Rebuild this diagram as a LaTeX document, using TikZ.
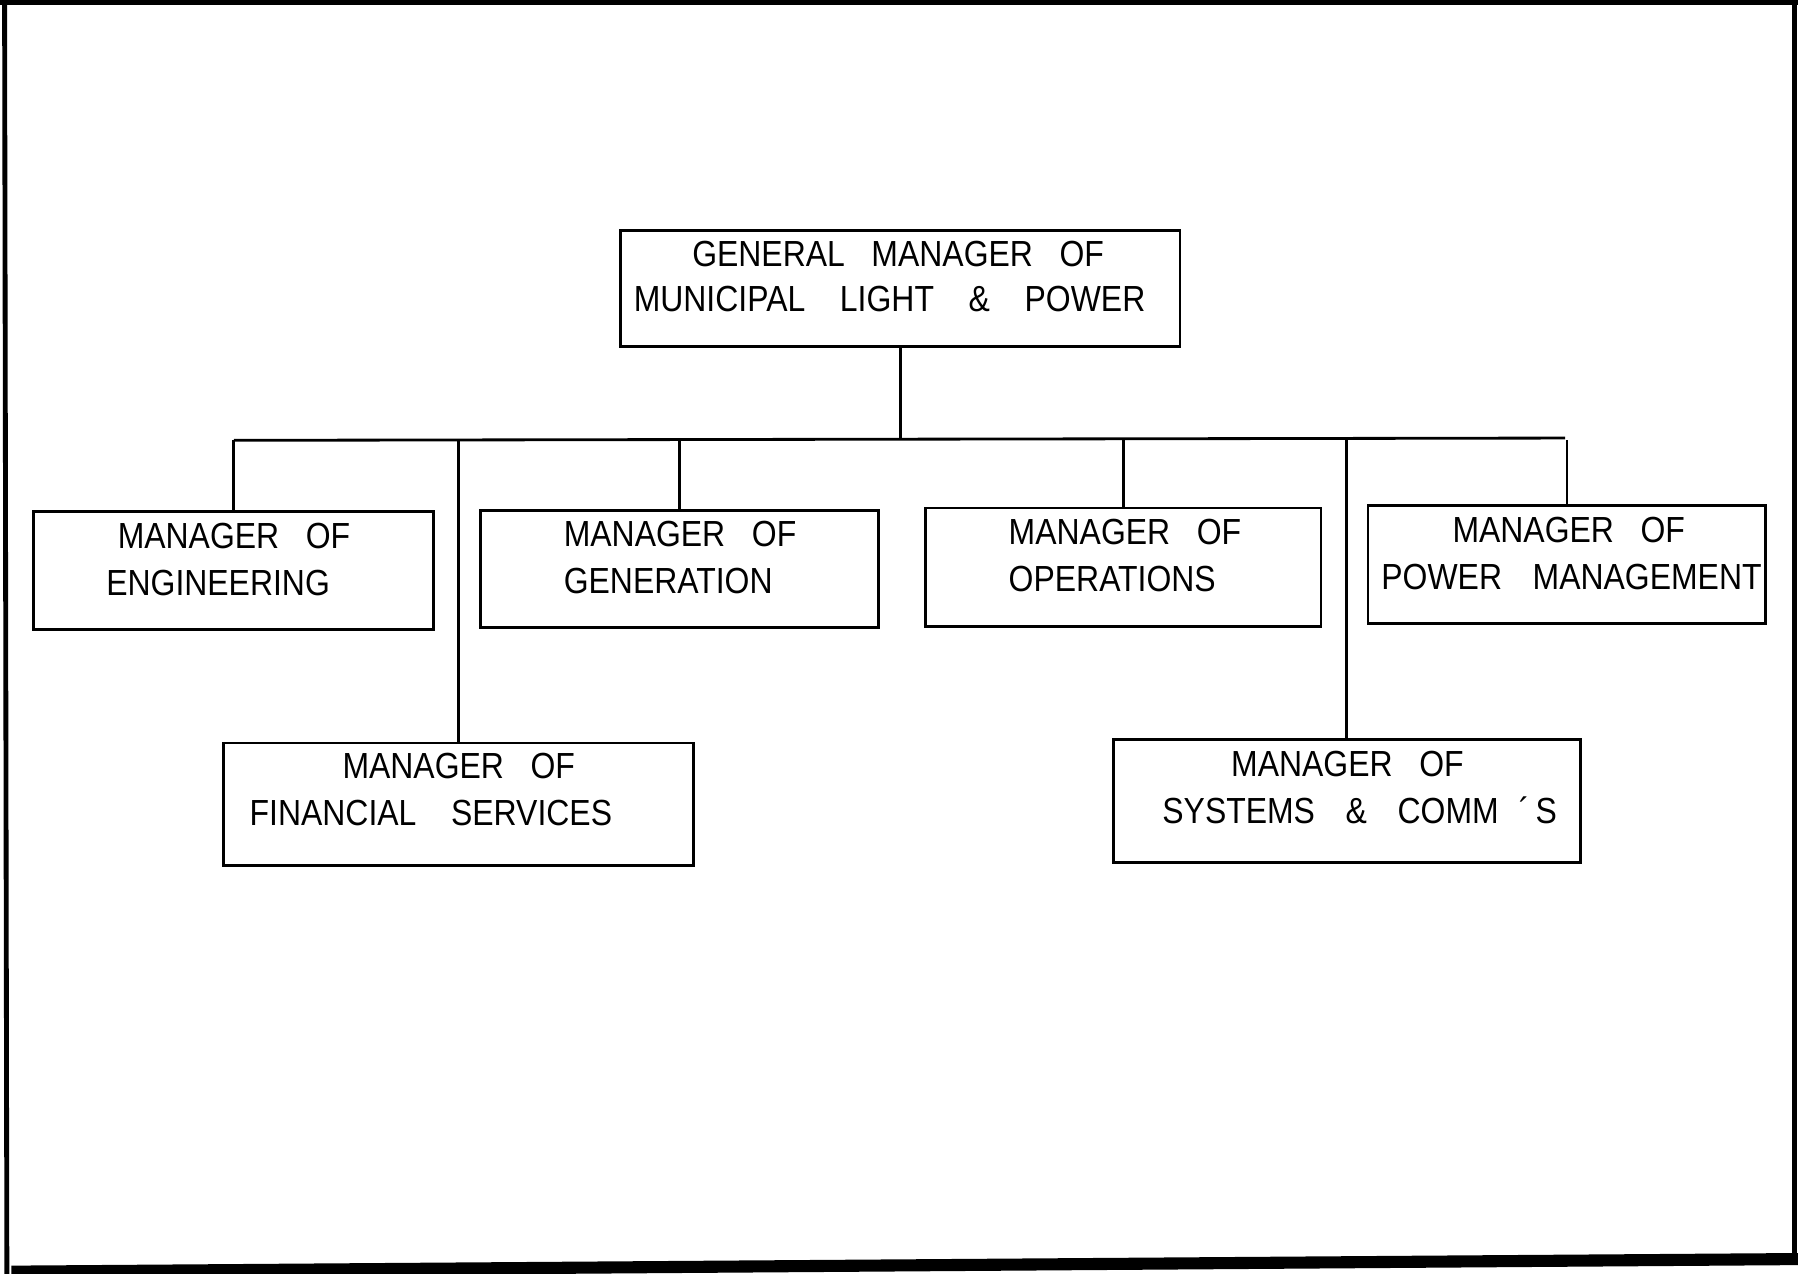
\documentclass[tikz,border=0pt]{standalone}
\usepackage{fontspec}
\setmainfont{Liberation Sans}[FakeStretch=0.88]
\usetikzlibrary{fit}
\newcommand{\wg}{\hspace{7.6pt}}
\newcommand{\wgs}{\hspace{6.6pt}}
\newcommand{\wgw}{\hspace{8.6pt}}
\begin{document}
\begin{tikzpicture}[x=0.01cm,y=-0.01cm,
  orgbox/.style={draw=black, line width=0.7pt, inner sep=0pt},
  lbl/.style={anchor=base west, inner sep=0pt, font=\fontsize{9pt}{10pt}\selectfont},
  conn/.style={draw=black, line width=0.7pt},
  frame/.style={draw=black, line width=1.2pt}]
\useasboundingbox (0,0) rectangle (1568,1111);
% page frame
\draw[frame] (0,2) -- (1568,2);
\draw[frame] (4,0) -- (6,1111);
\draw[frame] (1565,0) -- (1565,1100);
\draw[draw=black, line width=3pt] (10,1109) -- (1568,1098);
% boxes
\node[orgbox, fit={(541,201) (1029,302)}] (top) {};
\node[orgbox, fit={(29,446) (378,549)}] (eng) {};
\node[orgbox, fit={(419,445) (766,547)}] (gen) {};
\node[orgbox, fit={(807,443) (1152,546)}] (ops) {};
\node[orgbox, fit={(1193,441) (1540,544)}] (pow) {};
\node[orgbox, fit={(195,648) (605,755)}] (fin) {};
\node[orgbox, fit={(971,645) (1378,752)}] (sys) {};
% texts
\node[lbl] (top1) at (603,232) {GENERAL\wgs MANAGER\wgs OF};
\node[lbl] (top2) at (552,272) {MUNICIPAL\wgw LIGHT\wgw \&\wgw POWER};
\node[lbl] (eng1) at (102,478) {MANAGER\wgs OF};
\node[lbl] (eng2) at (92,519) {ENGINEERING};
\node[lbl] (gen1) at (491,477) {MANAGER\wgs OF};
\node[lbl] (gen2) at (491,518) {GENERATION};
\node[lbl] (ops1) at (879,475) {MANAGER\wgs OF};
\node[lbl] (ops2) at (879,516) {OPERATIONS};
\node[lbl] (pow1) at (1266,473) {MANAGER\wgs OF};
\node[lbl] (pow2) at (1204,514) {POWER\wg MANAGEMENT};
\node[lbl] (fin1) at (298,679) {MANAGER\wgs OF};
\node[lbl] (fin2) at (217,720) {FINANCIAL\wgw SERVICES};
\node[lbl] (sys1) at (1073,677) {MANAGER\wgs OF};
\node[lbl] (sys2) at (1013,718) {SYSTEMS\wg \&\wg COMM\hspace{5pt}´\hspace{1.5pt}S};
% connectors
\coordinate (busL) at (204,384);
\coordinate (busR) at (1365,382);
\draw[conn] (busL) -- (busR);
\draw[conn] (top.south) -- (top.south |- busL);
\draw[conn] (eng.north) -- (eng.north |- busL);
\draw[conn] (fin.north) -- (fin.north |- busL);
\draw[conn] (gen.north) -- (gen.north |- busL);
\draw[conn] (ops.north) -- (ops.north |- busL);
\draw[conn] (sys.north) -- (sys.north |- busL);
\draw[conn] (pow.north) -- (pow.north |- busL);
\end{tikzpicture}
\end{document}
